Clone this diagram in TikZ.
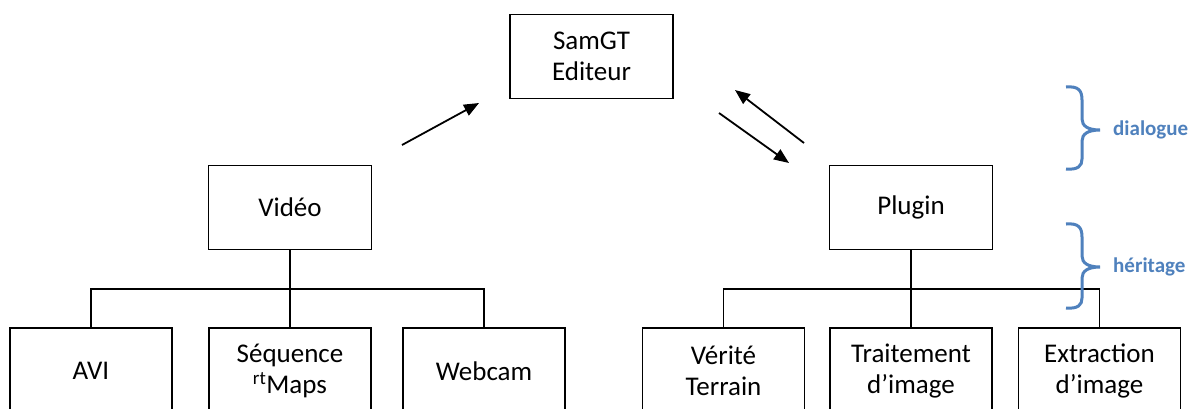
\documentclass[tikz,border=0pt]{standalone}
\usepackage{fontspec}
\setmainfont{Carlito}
\usetikzlibrary{arrows.meta}
\definecolor{accent}{RGB}{79,129,189}
\begin{document}
\begin{tikzpicture}[x=1pt,y=-1pt,
  box/.style={draw, line width=1.8pt, minimum width=163pt, minimum height=84pt, inner sep=0pt, align=center, font=\fontsize{27}{31}\selectfont},
  leaf/.style={box, minimum width=162pt, minimum height=86pt},
  link/.style={line width=1.8pt},
  arr/.style={line width=1.8pt, -{Triangle[length=15pt,width=12pt]}},
  brace/.style={draw=accent, line width=3pt},
  lbl/.style={text=accent, font=\fontsize{21}{25}\bfseries\selectfont, anchor=base west, inner sep=0pt}]
\clip (0,0) rectangle (1196,408);
\fill[white] (0,0) rectangle (1196,408);

\node[box] (sam) at (591.5,56.5) {SamGT\\Editeur};
\node[box] (video) at (290,207.5) {Vidéo};
\node[box] (plugin) at (911,207.5) {Plugin};

\node[leaf] (avi) at (91,371) {AVI};
\node[leaf] (seq) at (290,371) {Séquence\\\textsuperscript{rt}Maps};
\node[leaf] (web) at (484,371) {Webcam};
\node[leaf] (verite) at (723.5,371) {Vérité\\Terrain};
\node[leaf] (trait) at (911,371) {Traitement\\d’image};
\node[leaf] (extr) at (1099.5,371) {Extraction\\d’image};

% tree connectors
\coordinate (lbus) at (290,289);
\coordinate (rbus) at (911,289);
\draw[link] (video.south) -- (lbus);
\draw[link] (avi.north) |- (lbus) -| (web.north);
\draw[link] (lbus) -- (seq.north);
\draw[link] (plugin.south) -- (rbus);
\draw[link] (verite.north) |- (rbus) -| (extr.north);
\draw[link] (rbus) -- (trait.north);

% dialogue arrows
\coordinate (a1s) at (402,145);
\coordinate (a1e) at (479,103);
\coordinate (a2s) at (804,143);
\coordinate (a2e) at (735,90);
\coordinate (a3s) at (719,113);
\coordinate (a3e) at (789,163);
\draw[arr] (a1s) -- (a1e);
\draw[arr] (a2s) -- (a2e);
\draw[arr] (a3s) -- (a3e);

% braces
\draw[brace] (1066,87) .. controls (1078,86) and (1082,90) .. (1082,100) -- (1082,119)
  .. controls (1082,126) and (1088,130) .. (1100,130)
  .. controls (1088,130) and (1082,134) .. (1082,141) -- (1082,159)
  .. controls (1082,166) and (1078,170) .. (1066,169);
\draw[brace] (1066,224) .. controls (1078,223) and (1082,227) .. (1082,237) -- (1082,256)
  .. controls (1082,263) and (1088,267) .. (1100,267)
  .. controls (1088,267) and (1082,271) .. (1082,278) -- (1082,298)
  .. controls (1082,305) and (1078,309) .. (1066,308);
\node[lbl] (dlg) at (1113,135) {dialogue};
\node[lbl] (her) at (1113,272) {héritage};
\end{tikzpicture}
\end{document}
